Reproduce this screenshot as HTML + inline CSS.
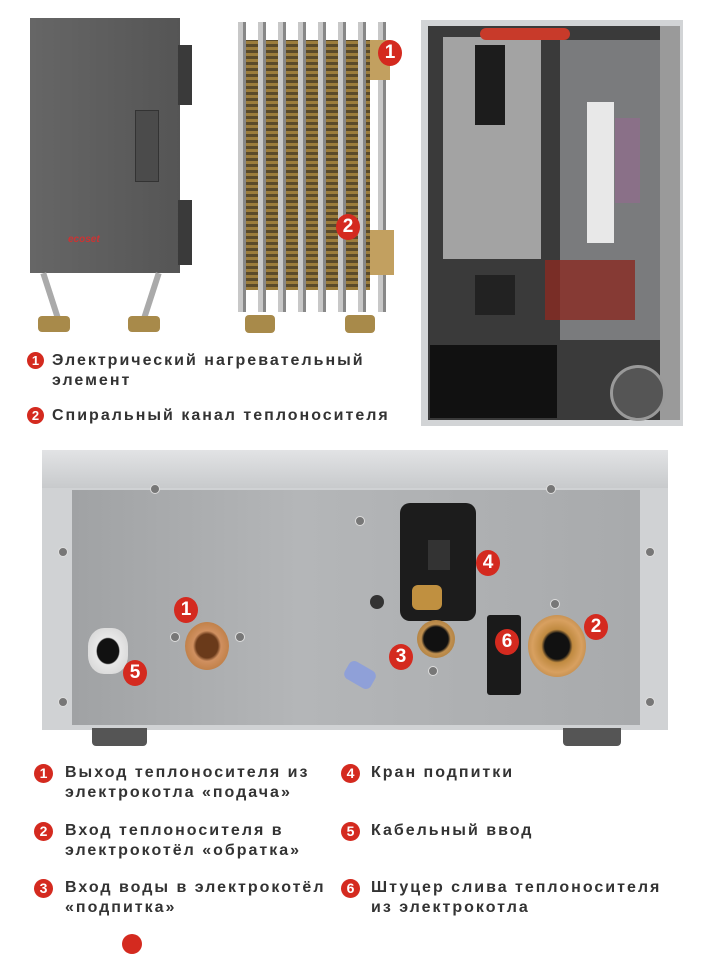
<!DOCTYPE html>
<html><head><meta charset="utf-8"><style>
body{margin:0;width:709px;height:945px;background:#fff;position:relative;overflow:hidden;font-family:"Liberation Sans","DejaVu Sans",sans-serif}
.a{position:absolute}
.b{position:absolute;border-radius:50%;background:#d42a1f;color:#fff;font-weight:bold;text-align:center;font-family:"Liberation Sans",sans-serif}
.t{position:absolute;font-size:16px;font-weight:bold;color:#333;letter-spacing:2px;line-height:20px;white-space:nowrap}
.s{position:absolute;width:8px;height:8px;border-radius:50%;background:#777;border:1px solid #ddd}
</style></head><body>
<!-- left plate -->
<div class="a" style="left:30px;top:18px;width:150px;height:255px;background:linear-gradient(90deg,#666,#5c5c5c 60%,#555);"></div>
<div class="a" style="left:178px;top:45px;width:14px;height:60px;background:#3a3a3a"></div>
<div class="a" style="left:178px;top:200px;width:14px;height:65px;background:#3a3a3a"></div>
<div class="a" style="left:135px;top:110px;width:22px;height:70px;background:#4b4b4b;border:1px solid #333"></div>
<div class="a" style="left:68px;top:234px;width:50px;height:10px;color:#c33;font-size:10px;font-weight:bold;font-style:italic">ecoset</div>
<div class="a" style="left:48px;top:272px;width:6px;height:50px;background:#aaa;transform:rotate(-18deg)"></div>
<div class="a" style="left:148px;top:272px;width:6px;height:50px;background:#aaa;transform:rotate(18deg)"></div>
<div class="a" style="left:38px;top:316px;width:32px;height:16px;background:#a88a4a;border-radius:4px"></div>
<div class="a" style="left:128px;top:316px;width:32px;height:16px;background:#a88a4a;border-radius:4px"></div>
<!-- coil -->
<div class="a" style="left:240px;top:40px;width:130px;height:250px;background:repeating-linear-gradient(0deg,#9c7d3c 0 3px,#5a4a2a 3px 6px)"></div>
<div class="a" style="left:232px;top:22px;width:158px;height:290px;background:repeating-linear-gradient(90deg,transparent 0 6px,#c8c8c8 6px 11px,#888 11px 14px,transparent 14px 20px)"></div>
<div class="a" style="left:370px;top:40px;width:20px;height:40px;background:#c2a060"></div>
<div class="a" style="left:370px;top:230px;width:24px;height:45px;background:#c2a060"></div>
<div class="a" style="left:245px;top:315px;width:30px;height:18px;background:#a88a4a;border-radius:4px"></div>
<div class="a" style="left:345px;top:315px;width:30px;height:18px;background:#a88a4a;border-radius:4px"></div>
<div class="b" style="left:378px;top:40px;width:24px;height:26px;font-size:19px;line-height:26px">1</div>
<div class="b" style="left:336px;top:214px;width:24px;height:26px;font-size:19px;line-height:26px">2</div>
<!-- right photo -->
<div class="a" style="left:421px;top:20px;width:262px;height:406px;background:#d2d4d6"></div>
<div class="a" style="left:428px;top:26px;width:248px;height:394px;background:#3a3a3a"></div>
<div class="a" style="left:560px;top:40px;width:100px;height:300px;background:#7a7b7d"></div>
<div class="a" style="left:443px;top:37px;width:98px;height:222px;background:#a3a3a3"></div>
<div class="a" style="left:475px;top:45px;width:30px;height:80px;background:#1c1c1c"></div>
<div class="a" style="left:480px;top:28px;width:90px;height:12px;background:#c83a2a;border-radius:6px"></div>
<div class="a" style="left:545px;top:260px;width:90px;height:60px;background:#8a2a22;opacity:.8"></div>
<div class="a" style="left:587px;top:102px;width:27px;height:141px;background:#e8e8e8"></div>
<div class="a" style="left:615px;top:118px;width:25px;height:85px;background:#8a7088"></div>
<div class="a" style="left:660px;top:26px;width:20px;height:394px;background:#9a9a9a"></div>
<div class="a" style="left:475px;top:275px;width:40px;height:40px;background:#222"></div>
<div class="a" style="left:430px;top:345px;width:127px;height:73px;background:#111"></div>
<div class="a" style="left:610px;top:365px;width:50px;height:50px;border-radius:50%;background:#555;border:3px solid #999"></div>
<!-- top legend -->
<div class="b" style="left:27px;top:352px;width:17px;height:17px;font-size:13px;line-height:17px">1</div>
<div class="t" style="left:52px;top:351px">Электрический нагревательный</div>
<div class="t" style="left:52px;top:371px">элемент</div>
<div class="b" style="left:27px;top:407px;width:17px;height:17px;font-size:13px;line-height:17px">2</div>
<div class="t" style="left:52px;top:406px">Спиральный канал теплоносителя</div>
<!-- bottom boiler -->
<div class="a" style="left:42px;top:450px;width:626px;height:280px;background:#d0d2d4"></div>
<div class="a" style="left:42px;top:450px;width:626px;height:38px;background:linear-gradient(#e2e3e5,#c8cacc)"></div>
<div class="a" style="left:72px;top:490px;width:568px;height:235px;background:linear-gradient(90deg,#a0a2a4,#b4b6b8 40%,#a8aaac)"></div>
<div class="a" style="left:92px;top:728px;width:55px;height:18px;background:#555;border-radius:0 0 4px 4px"></div>
<div class="a" style="left:563px;top:728px;width:58px;height:18px;background:#555;border-radius:0 0 4px 4px"></div>
<div class="a" style="left:400px;top:503px;width:76px;height:118px;background:#1c1c1c;border-radius:10px"></div>
<div class="a" style="left:428px;top:540px;width:22px;height:30px;background:#333"></div>
<div class="a" style="left:412px;top:585px;width:30px;height:25px;background:#c09040;border-radius:6px"></div>
<div class="a" style="left:370px;top:595px;width:14px;height:14px;border-radius:50%;background:#333"></div>
<div class="a" style="left:185px;top:622px;width:44px;height:48px;border-radius:50%;background:radial-gradient(#6a3a1a 35%,#d09060 45%,#b07030)"></div>
<div class="a" style="left:88px;top:628px;width:40px;height:46px;border-radius:40%;background:radial-gradient(#111 38%,#e8e8e8 42%,#d0d0d0)"></div>
<div class="a" style="left:417px;top:620px;width:38px;height:38px;border-radius:50%;background:radial-gradient(#111 45%,#c09050 55%,#a07030)"></div>
<div class="a" style="left:487px;top:615px;width:34px;height:80px;background:#1a1a1a;border-radius:3px"></div>
<div class="a" style="left:528px;top:615px;width:58px;height:62px;border-radius:50%;background:radial-gradient(#111 30%,#c08a40 38%,#d8a060 60%,#a07030)"></div>
<div class="a" style="left:345px;top:665px;width:30px;height:20px;background:#8fa0d8;border-radius:6px;transform:rotate(30deg)"></div>
<div class="s" style="left:58px;top:547px"></div>
<div class="s" style="left:58px;top:697px"></div><div class="s" style="left:645px;top:547px"></div><div class="s" style="left:645px;top:697px"></div>
<div class="s" style="left:150px;top:484px"></div><div class="s" style="left:546px;top:484px"></div>
<div class="s" style="left:355px;top:516px"></div><div class="s" style="left:170px;top:632px"></div><div class="s" style="left:235px;top:632px"></div>
<div class="s" style="left:428px;top:666px"></div><div class="s" style="left:550px;top:599px"></div>
<div class="b" style="left:174px;top:597px;width:24px;height:26px;font-size:19px;line-height:26px">1</div>
<div class="b" style="left:476px;top:550px;width:24px;height:26px;font-size:19px;line-height:26px">4</div>
<div class="b" style="left:584px;top:614px;width:24px;height:26px;font-size:19px;line-height:26px">2</div>
<div class="b" style="left:389px;top:644px;width:24px;height:26px;font-size:19px;line-height:26px">3</div>
<div class="b" style="left:495px;top:629px;width:24px;height:26px;font-size:19px;line-height:26px">6</div>
<div class="b" style="left:123px;top:660px;width:24px;height:26px;font-size:19px;line-height:26px">5</div>
<!-- bottom legend -->
<div class="b" style="left:34px;top:764px;width:19px;height:19px;font-size:14px;line-height:19px">1</div>
<div class="t" style="left:65px;top:763px">Выход теплоносителя из</div>
<div class="t" style="left:65px;top:783px">электрокотла «подача»</div>
<div class="b" style="left:34px;top:822px;width:19px;height:19px;font-size:14px;line-height:19px">2</div>
<div class="t" style="left:65px;top:821px">Вход теплоносителя в</div>
<div class="t" style="left:65px;top:841px">электрокотёл «обратка»</div>
<div class="b" style="left:34px;top:879px;width:19px;height:19px;font-size:14px;line-height:19px">3</div>
<div class="t" style="left:65px;top:878px">Вход воды в электрокотёл</div>
<div class="t" style="left:65px;top:898px">«подпитка»</div>
<div class="b" style="left:341px;top:764px;width:19px;height:19px;font-size:14px;line-height:19px">4</div>
<div class="t" style="left:371px;top:763px">Кран подпитки</div>
<div class="b" style="left:341px;top:822px;width:19px;height:19px;font-size:14px;line-height:19px">5</div>
<div class="t" style="left:371px;top:821px">Кабельный ввод</div>
<div class="b" style="left:341px;top:879px;width:19px;height:19px;font-size:14px;line-height:19px">6</div>
<div class="t" style="left:371px;top:878px">Штуцер слива теплоносителя</div>
<div class="t" style="left:371px;top:898px">из электрокотла</div>
<div class="b" style="left:122px;top:934px;width:20px;height:20px"></div>
</body></html>
